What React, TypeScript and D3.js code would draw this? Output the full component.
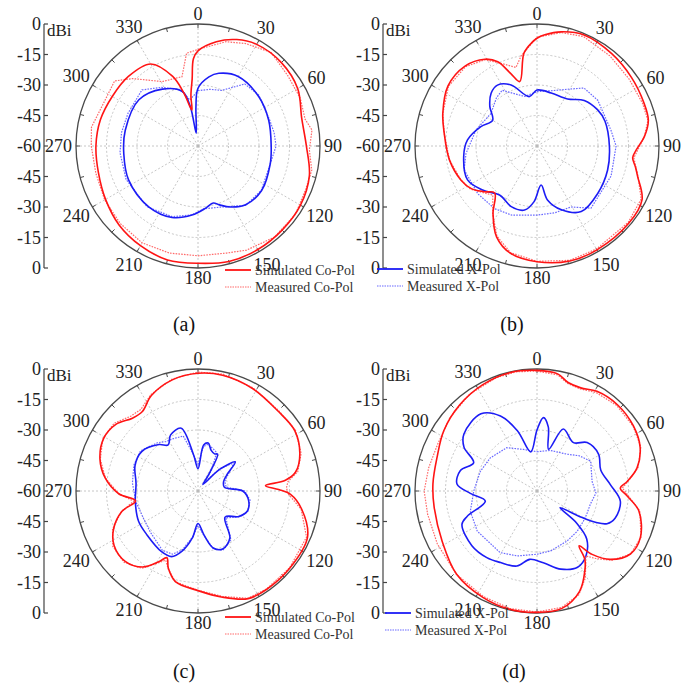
import React from 'react';
import * as d3 from 'd3';

type P = [number, number]; // [angle in degrees (clockwise from top), gain in dBi]

// ---------- tick labels ----------
const ANGLE_TICKS = [0, 30, 60, 90, 120, 150, 180, 210, 240, 270, 300, 330];
const AXIS_LABELS = ['0', '-15', '-30', '-45', '-60', '-45', '-30', '-15', '0'];
const RING_VALUES = [-45, -30, -15];
const CAPTIONS = ['(a)', '(b)', '(c)', '(d)'];
const CO_LEGEND = ['Simulated Co-Pol', 'Measured Co-Pol'];
const X_LEGEND = ['Simulated X-Pol', 'Measured X-Pol'];

// ---------- (a) ----------
const A_CO_SIM: P[] = [[0,-13.2],[10,-7.9],[20,-4.3],[30,-2.3],[45,-2],[60,-3.4],[75,-7.2],[90,-6.7],[105,-3.3],[120,-1.8],[135,-1.5],[150,-1.2],[165,-1.2],[180,-2.3],[195,-2],[210,-3.4],[225,-5.1],[240,-7.5],[255,-9.3],[270,-9.8],[285,-10.3],[300,-11.3],[315,-11.6],[330,-13.4],[340,-23.6],[345,-33],[349,-41],[350.5,-42],[352,-35],[355,-27],[357,-17]];
const A_CO_MEAS: P[] = [[0,-12.5],[15,-6.9],[25,-4.4],[38,-1.6],[52,-3.9],[65,-4.5],[76,-5.7],[82,-3.4],[92,-5.2],[102,-2.8],[112,-2.9],[125,-1.5],[140,-1.5],[155,-3.5],[165,-5.5],[180,-6],[195,-5.5],[210,-5],[225,-6],[240,-7],[255,-8],[270,-7.5],[280,-6.8],[294,-9],[308,-8],[316,-13.9],[331,-23.8],[347,-25],[353,-14]];
const A_X_SIM: P[] = [[0,-31.6],[9,-25.6],[16,-22.8],[30,-20.5],[51,-21.5],[70,-23],[90,-24],[104,-23.4],[125,-21.8],[141,-22.8],[152,-26],[160,-29.2],[165,-31],[173,-29.2],[185,-25.9],[200,-22.6],[219,-21.5],[244,-22],[264,-23.3],[282,-23.4],[308,-23.1],[328,-27],[344,-32.1],[349,-40.3],[352,-53.6],[357,-40.7]];
const A_X_MEAS: P[] = [[0,-32.8],[12,-31.5],[23,-30.3],[37,-21.8],[50,-21],[70,-22.5],[80,-22],[90,-21.6],[104,-23.4],[125,-22],[141,-22.5],[160,-28],[175,-29],[185,-26],[200,-23],[220,-21],[245,-21],[265,-21.5],[280,-21.8],[295,-22],[315,-21],[328,-26],[343,-31],[350,-37]];

// ---------- (b) ----------
const B_CO_SIM: P[] = [[0,-7],[4,-5.2],[12,-2.6],[23,-0.7],[39,-1.6],[54,-2.6],[68,-3.3],[77,-3.8],[85,-7],[92,-11],[97,-12.6],[102,-10.5],[107,-8.2],[117,-2],[130,-1],[150,-1],[164,-1.2],[180,-3.1],[194,-5.7],[204,-11.1],[213,-20.3],[222,-28.9],[229,-25.7],[237,-21.5],[246,-19],[261,-16.4],[278,-13.9],[289,-11],[304,-7.2],[318,-7.1],[329,-10.2],[335,-14.3],[340,-22],[345,-27.2],[352,-13.9],[357,-9.2]];
const B_CO_MEAS: P[] = [[0,-6.5],[12,-3],[23,-1.5],[39,-3],[54,-4],[68,-4],[77,-4],[85,-7],[97,-12],[107,-8],[117,-2.5],[130,-1.5],[150,-1.5],[164,-1.5],[180,-3.3],[194,-6],[204,-11.5],[213,-20],[222,-27.5],[229,-25],[237,-21],[246,-19],[261,-16.4],[278,-13.9],[289,-11],[304,-7.5],[318,-7.5],[329,-10.5],[337,-16],[345,-20],[350,-15],[357,-9.5]];
const B_X_SIM: P[] = [[0,-32.5],[15,-33],[33,-32.4],[46,-27.7],[59,-25.3],[70,-24.4],[90,-24.4],[109,-23.3],[128,-22.1],[146,-21.1],[159,-26.4],[169,-33],[174,-40.7],[183,-32.6],[191,-27.9],[203,-27.6],[217,-29.7],[231,-25.6],[244,-22],[262,-23.6],[275,-25.7],[289,-30.8],[300,-34.8],[310,-29.7],[319,-25.6],[327,-24.3],[337,-27.4],[351,-35.4]];
const B_X_MEAS: P[] = [[0,-33.3],[14,-32],[28,-28.4],[39,-23.3],[53,-22.6],[78,-22.8],[90,-21.1],[112,-20.7],[139,-19.5],[151,-25.7],[165,-26],[180,-26],[200,-23.8],[214,-22.8],[231,-22.6],[252,-22.3],[264,-24.9],[285,-29],[305,-32.3],[320,-29],[328,-27.7],[346,-34.9]];

// ---------- (c) ----------
const C_CO_SIM: P[] = [[0,-2.1],[12,-1.8],[28,-2.9],[45,-4.4],[58,-3.9],[70,-6.7],[79,-11.1],[83,-16.7],[85.5,-26.7],[89,-20.3],[92,-14.6],[100,-8.2],[113,-1.5],[130,-1],[145,-1],[155,-1.6],[167,-6.4],[180,-11],[194,-14.1],[201,-19.3],[205,-23.8],[209,-20.2],[216,-13.8],[226,-10.2],[237,-10.8],[246,-14.6],[255,-21.3],[261,-28.9],[268,-21],[278,-13.9],[288,-9.3],[299,-6.9],[309,-8],[318,-11.8],[325,-12.3],[334,-7.7],[347,-3.9]];
const C_CO_MEAS: P[] = [[0,-1.5],[12,-1.2],[28,-2.5],[45,-4],[58,-3.5],[70,-6],[79,-10],[84,-15.5],[88,-16.5],[92,-15.5],[100,-8.5],[113,-2],[130,-1.2],[145,-1.2],[155,-1.8],[167,-6.8],[180,-11.2],[194,-14],[201,-19],[205,-22.5],[209,-19.5],[216,-13],[226,-9.5],[237,-10],[246,-14],[255,-21],[261,-28],[268,-21],[278,-14],[288,-9.5],[299,-6.5],[309,-7],[318,-10.5],[325,-11],[334,-7.2],[347,-3.5]];
const C_X_SIM: P[] = [[0,-49],[7,-37.2],[12,-35.9],[18,-39],[24,-40],[28,-39.5],[33,-50],[37,-56],[45,-45],[52,-36.7],[61,-43.8],[70,-46.6],[82,-46.9],[90,-38],[100,-34.8],[112,-33.8],[122,-36.4],[134,-41.5],[146,-32],[157,-29],[165,-31],[172,-38],[180,-44],[187,-36.6],[195,-29.2],[202,-25.2],[211,-25.2],[229,-26.9],[243,-27.2],[260,-28.7],[277,-29.3],[292,-26.6],[305,-26.2],[320,-30.2],[327,-33],[334,-29.3],[345,-28],[353,-42]];
const C_X_MEAS: P[] = [[0,-47],[7,-38],[12,-36.5],[20,-38],[26,-39],[33,-48],[37,-54],[45,-44],[52,-37.5],[61,-43],[70,-46],[82,-46],[90,-37],[100,-34],[112,-33.5],[122,-36],[134,-41],[146,-31],[157,-28.5],[165,-30.5],[172,-37.5],[180,-43],[187,-37],[195,-30],[202,-26.5],[211,-26],[229,-29],[243,-30],[260,-29],[277,-27.5],[292,-26],[305,-25.5],[320,-29],[327,-31],[334,-31.5],[345,-32],[353,-42]];

// ---------- (d) ----------
const D_CO_SIM: P[] = [[0,-0.7],[10,-1.5],[16,-4.5],[23,-4.9],[31,-2.8],[43,-2],[56,-2.8],[67,-4.9],[77,-9.5],[84,-15.4],[88,-19],[93,-15.7],[101,-9],[114,-4.3],[124,-4.6],[133,-10.7],[139,-18.7],[142.5,-26],[145,-19],[149,-14.3],[157,-6.4],[168,-1],[180,-0.3],[193,-0.3],[207,-1.3],[224,-3.1],[242,-7.2],[261,-8.8],[274,-8.7],[288,-8.2],[303,-5.4],[318,-3.1],[333,-1.3],[347,-0.3]];
const D_CO_MEAS: P[] = [[0,-1],[10,-2],[16,-5],[23,-5.5],[31,-3.5],[43,-2.5],[56,-3],[67,-4.5],[77,-9],[84,-15],[88,-18],[93,-15],[101,-8.5],[114,-4],[124,-4.5],[133,-10],[139,-16],[143,-20],[147,-16],[151,-11],[158,-5],[168,-1.5],[180,-0.5],[193,-0.7],[207,-1.8],[224,-3],[242,-4.5],[258,-5],[270,-4.5],[282,-5.5],[295,-6],[310,-4],[325,-2],[340,-0.8],[350,-0.5]];
const D_X_SIM: P[] = [[0,-30],[5,-23.8],[10,-28],[15.6,-38.7],[23,-26.9],[37,-30.2],[46,-25.7],[59,-24.7],[72,-27],[85,-23.8],[97,-18.7],[109,-19.3],[115,-22],[118,-27],[121,-36],[126,-46],[129,-35],[134,-26],[143,-20],[152,-17.5],[163,-19.8],[175,-24.6],[186,-26.2],[195,-21.8],[207,-20.5],[217,-19],[230,-18.2],[246,-19.6],[250,-23.4],[259,-34.1],[268,-27.2],[275,-20.5],[285,-21],[294,-25.9],[301,-18.1],[308,-14.4],[324,-13.1],[334,-19],[342,-28.8],[351,-40.5]];
const D_X_MEAS: P[] = [[0,-40.7],[18,-39],[39,-36.7],[50,-33],[61,-29.8],[80,-32.5],[92,-31],[104,-33],[115,-33],[123,-32.8],[135,-32],[149,-31.3],[167,-29.8],[180,-28.9],[197,-26.6],[211,-24.7],[236,-24.6],[253,-25.7],[270,-28.9],[289,-30.5],[305,-31.8],[325,-34],[342,-38.5]];

const W = 694;
const H = 683;
const R = 122;
const FONT = "'Liberation Serif', 'Times New Roman', serif";
const RED = '#ff1414';
const RED_M = '#ff6a6a';
const BLUE = '#1c1cf5';
const BLUE_M = '#6a6aff';

const rScale = d3.scaleLinear().domain([-60, 0]).range([0, R]);
const toRad = (deg: number) => (deg * Math.PI) / 180;

const simLine = d3
  .lineRadial<P>()
  .angle((d) => toRad(d[0]))
  .radius((d) => rScale(d[1]))
  .curve(d3.curveCatmullRomClosed.alpha(0.5));
const measLine = d3
  .lineRadial<P>()
  .angle((d) => toRad(d[0]))
  .radius((d) => rScale(d[1]))
  .curve(d3.curveLinearClosed);

interface PanelProps {
  cx: number;
  cy: number;
  caption: string;
  captionX: number;
  captionY: number;
  coSim: P[];
  coMeas: P[];
  xSim: P[];
  xMeas: P[];
  legend: 'co' | 'x';
  legendX: number;
  legendY: number;
}

function Panel(p: PanelProps) {
  const { cx, cy } = p;
  const axisX = cx - 154;
  const axisY = d3.scalePoint<number>().domain(AXIS_LABELS.map((_, i) => i)).range([cy - R, cy + R]);
  const minor = d3.range(0, 360, 15);
  const isCo = p.legend === 'co';
  const legendTexts = isCo ? CO_LEGEND : X_LEGEND;
  const c1 = isCo ? RED : BLUE;
  const c2 = isCo ? RED_M : BLUE_M;
  return (
    <g>
      {/* grid */}
      <g transform={`translate(${cx},${cy})`}>
        {RING_VALUES.map((v) => (
          <circle key={v} r={rScale(v)} fill="none" stroke="#b8b8b8" strokeWidth={0.8} strokeDasharray="2,2" />
        ))}
        {ANGLE_TICKS.map((a) => (
          <line
            key={a}
            x1={0}
            y1={0}
            x2={R * Math.sin(toRad(a))}
            y2={-R * Math.cos(toRad(a))}
            stroke="#b8b8b8"
            strokeWidth={0.8}
            strokeDasharray="2,2"
          />
        ))}
        <circle r={R} fill="none" stroke="#4a4a4a" strokeWidth={1.3} />
        {minor.map((a) => (
          <line
            key={'t' + a}
            x1={(R - 4) * Math.sin(toRad(a))}
            y1={-(R - 4) * Math.cos(toRad(a))}
            x2={R * Math.sin(toRad(a))}
            y2={-R * Math.cos(toRad(a))}
            stroke="#4a4a4a"
            strokeWidth={1}
          />
        ))}
        {/* data */}
        <path d={measLine(p.xMeas) || ''} fill="none" stroke={BLUE_M} strokeWidth={1.2} strokeDasharray="1.6,1.2" />
        <path d={simLine(p.xSim) || ''} fill="none" stroke={BLUE} strokeWidth={1.6} />
        <path d={measLine(p.coMeas) || ''} fill="none" stroke={RED_M} strokeWidth={1.2} strokeDasharray="1.6,1.2" />
        <path d={simLine(p.coSim) || ''} fill="none" stroke={RED} strokeWidth={1.6} />
        {/* angle labels */}
        {ANGLE_TICKS.map((a) => {
          const s = Math.sin(toRad(a));
          const c = Math.cos(toRad(a));
          const w = String(a).length * 9;
          const dist = R + 4 + 0.5 * Math.abs(s) * w + 6 * Math.abs(c);
          return (
            <text
              key={'l' + a}
              x={dist * s}
              y={-dist * c + 6}
              textAnchor="middle"
              fontFamily={FONT}
              fontSize={18}
              fill="#222"
            >
              {a}
            </text>
          );
        })}
      </g>
      {/* radial axis on the left */}
      <line x1={axisX} y1={cy - R} x2={axisX} y2={cy + R} stroke="#444" strokeWidth={1.2} />
      {AXIS_LABELS.map((lab, i) => (
        <g key={'a' + i}>
          <line x1={axisX} x2={axisX + 4} y1={axisY(i)} y2={axisY(i)} stroke="#444" strokeWidth={1.2} />
          <text x={axisX - 3} y={(axisY(i) as number) + 6} textAnchor="end" fontFamily={FONT} fontSize={18} fill="#222">
            {lab}
          </text>
        </g>
      ))}
      <text x={axisX + 3} y={cy - R + 12} fontFamily={FONT} fontSize={17} fill="#222">
        dBi
      </text>
      {/* legend */}
      <line x1={p.legendX} x2={p.legendX + 26} y1={p.legendY} y2={p.legendY} stroke={c1} strokeWidth={1.8} />
      <text x={p.legendX + 30} y={p.legendY + 5} fontFamily={FONT} fontSize={14} fill="#333">
        {legendTexts[0]}
      </text>
      <line
        x1={p.legendX}
        x2={p.legendX + 26}
        y1={p.legendY + 17}
        y2={p.legendY + 17}
        stroke={c2}
        strokeWidth={1.2}
        strokeDasharray="1.5,1"
      />
      <text x={p.legendX + 30} y={p.legendY + 22} fontFamily={FONT} fontSize={14} fill="#333">
        {legendTexts[1]}
      </text>
      {/* caption */}
      <text x={p.captionX} y={p.captionY} textAnchor="middle" fontFamily={FONT} fontSize={20} fill="#111">
        {p.caption}
      </text>
    </g>
  );
}

export default function App() {
  return (
    <svg width={W} height={H} style={{ display: 'block', position: 'absolute', left: 0, top: 0, background: '#fff' }}>
      <rect width={W} height={H} fill="#fff" />
      <Panel cx={198} cy={146} caption={CAPTIONS[0]} captionX={184} captionY={331}
        coSim={A_CO_SIM} coMeas={A_CO_MEAS} xSim={A_X_SIM} xMeas={A_X_MEAS} legend="co" legendX={225} legendY={270} />
      <Panel cx={537} cy={146} caption={CAPTIONS[1]} captionX={512} captionY={331}
        coSim={B_CO_SIM} coMeas={B_CO_MEAS} xSim={B_X_SIM} xMeas={B_X_MEAS} legend="x" legendX={377} legendY={269} />
      <Panel cx={198} cy={491} caption={CAPTIONS[2]} captionX={184} captionY={678}
        coSim={C_CO_SIM} coMeas={C_CO_MEAS} xSim={C_X_SIM} xMeas={C_X_MEAS} legend="co" legendX={225} legendY={617} />
      <Panel cx={537} cy={491} caption={CAPTIONS[3]} captionX={514} captionY={678}
        coSim={D_CO_SIM} coMeas={D_CO_MEAS} xSim={D_X_SIM} xMeas={D_X_MEAS} legend="x" legendX={385} legendY={613} />
    </svg>
  );
}
